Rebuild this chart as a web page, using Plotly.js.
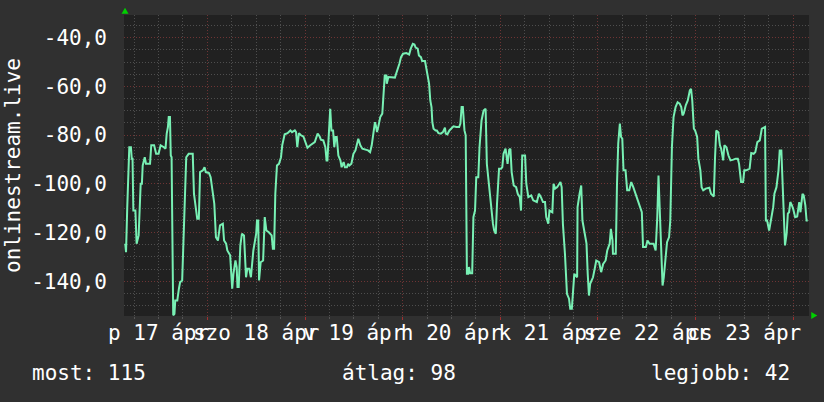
<!DOCTYPE html>
<html>
<head>
<meta charset="utf-8">
<script src="https://cdn.plot.ly/plotly-3.0.1.min.js"></script>
<style>
html,body{margin:0;padding:0;background:#303030;}
#chart{width:824px;height:402px;}
</style>
</head>
<body>
<div id="chart"></div>
<script>
// hours since 17 Apr 00:00
var hours = [3.8,4.0,4.3,4.8,5.2,5.4,5.6,5.8,6.3,6.6,7.1,7.6,7.9,8.1,8.6,8.9,9.9,10.2,10.9,11.4,
12.0,12.5,13.3,13.7,14.0,14.3,14.5,14.8,15.0,15.2,15.6,15.9,16.1,16.6,17.0,17.3,17.8,18.1,18.4,18.8,
19.4,20.4,20.7,21.2,21.5,21.9,22.2,22.9,23.3,23.6,24.4,24.8,25.2,25.7,26.1,26.6,27.1,27.8,28.1,28.6,
28.9,29.6,30.1,30.4,30.9,31.2,31.4,31.7,32.1,32.5,33.0,33.3,33.5,33.8,34.3,34.7,35.0,35.3,36.0,36.2,
36.5,36.7,37.1,37.7,38.1,38.5,39.1,39.8,40.1,40.4,40.7,41.1,41.6,42.1,42.4,43.0,43.7,44.4,44.8,45.5,
45.8,46.1,46.5,47.0,47.6,48.0,48.6,49.3,49.9,50.4,51.1,51.6,51.9,52.5,53.0,53.3,53.5,53.9,54.2,54.5,
54.9,55.2,55.5,55.8,56.2,56.7,57.0,57.5,57.8,58.3,58.6,58.9,59.4,59.9,60.4,61.1,61.6,62.1,62.9,63.5,
64.0,64.4,64.8,65.2,65.5,65.7,66.0,66.5,67.0,67.3,67.6,68.0,68.1,68.5,69.1,70.1,70.4,70.7,71.2,71.6,
72.1,72.9,73.6,74.0,74.5,74.9,75.2,75.7,76.0,76.5,76.8,77.5,77.8,78.1,78.5,78.8,79.1,79.3,79.6,80.1,
80.4,80.8,81.4,81.9,82.4,82.6,83.0,83.5,84.0,84.5,85.2,85.9,86.2,86.5,86.8,87.2,87.5,87.6,87.8,88.1,
88.3,88.6,89.1,89.4,89.8,90.1,90.6,90.9,91.4,91.9,92.4,92.7,93.1,93.4,93.7,94.2,94.5,94.9,95.2,95.7,
96.2,96.5,96.8,97.3,97.8,98.2,98.5,98.8,99.3,99.9,100.3,100.8,101.1,101.4,102.1,102.4,102.9,103.6,104.1,104.7,
105.0,105.5,106.0,106.5,107.0,107.3,107.8,108.1,108.8,109.1,109.5,110.0,110.3,110.8,111.1,111.4,111.9,112.4,112.9,113.2,
113.6,113.9,114.2,114.9,115.0,115.5,115.9,116.2,116.8,117.2,117.5,117.8,118.1,118.8,119.3,119.6,120.3,120.8,121.3,121.9,
122.3,122.9,123.2,123.6,123.7,124.4,124.7,125.0,125.4,125.7,126.0,126.3,126.8,127.2,127.7,128.2,128.7,129.1,129.8,130.5,
130.8,131.1,131.8,132.2,132.7,133.7,134.2,134.6,134.9,135.2,135.5,135.9,136.2,136.7,137.0,137.5,137.8,138.2,138.6,139.1,
139.6,140.1,140.5,140.8,141.1,141.6,142.1,142.6,142.9,143.2,143.6,143.9,144.4,144.7,145.2,145.5,145.9,146.5,147.4,147.8,
148.5,148.8,149.1,149.6,150.0,150.3,150.8,151.1,151.6,152.1,152.6,153.3,153.9,154.4,154.7,155.2,155.7,156.0,156.5,157.3,
157.7,158.3,158.7,159.2,159.8,160.3,161.1,161.3,161.6,162.1,162.6,163.1,163.4,163.9,164.4,164.7,165.1,165.4,165.7,166.0,
166.4,166.7,167.0,167.3,167.7,168.0,168.5,169.0,169.5,169.8,170.3,170.6,171.0,171.3,171.6];

var signal = [-124.6,-128.1,-109.6,-85.0,-85.0,-89.7,-89.7,-111.0,-111.0,-124.6,-121.2,-100.0,-100.0,-92.5,-89.1,-91.8,-91.8,-84.2,-84.2,-87.7,
-87.7,-84.2,-85.0,-85.6,-79.4,-76.7,-72.6,-72.6,-88.4,-89.1,-154.0,-153.4,-147.9,-147.9,-143.1,-140.4,-139.7,-121.9,-106.8,-89.1,
-87.7,-87.7,-104.1,-111.0,-114.4,-114.4,-95.2,-94.5,-93.2,-95.2,-95.6,-97.3,-102.7,-108.2,-121.9,-123.3,-117.1,-116.4,-123.3,-124.6,
-127.4,-129.4,-143.1,-137.0,-131.5,-134.2,-142.4,-142.4,-125.3,-120.5,-121.2,-131.5,-138.4,-134.9,-134.9,-138.4,-134.2,-127.4,-120.5,-115.1,
-115.1,-139.7,-132.2,-131.5,-113.7,-119.2,-119.9,-121.2,-126.7,-126.7,-104.1,-92.5,-91.8,-89.1,-84.2,-79.7,-79.2,-78.1,-78.8,-78.1,
-78.8,-85.0,-79.2,-80.1,-80.6,-82.2,-85.2,-84.2,-83.5,-82.9,-79.4,-80.6,-81.9,-82.2,-85.0,-90.4,-90.4,-78.1,-69.2,-78.1,
-78.1,-85.0,-80.8,-80.8,-88.4,-90.4,-93.2,-91.1,-93.2,-93.2,-91.8,-92.5,-91.8,-87.7,-86.3,-81.5,-84.2,-85.6,-86.0,-86.3,
-87.0,-84.2,-79.4,-74.7,-76.7,-78.8,-76.7,-72.6,-71.2,-61.0,-55.5,-55.5,-58.9,-56.2,-56.2,-56.4,-54.8,-53.4,-50.7,-48.0,
-46.6,-46.3,-46.9,-44.5,-42.5,-42.8,-44.1,-44.5,-47.3,-48.0,-49.6,-49.6,-52.1,-54.8,-58.9,-65.8,-68.5,-74.7,-77.4,-78.1,
-78.1,-79.2,-79.4,-78.8,-77.0,-79.4,-79.7,-78.1,-77.4,-76.4,-76.7,-76.7,-75.3,-68.5,-68.5,-78.1,-80.1,-105.5,-137.0,-137.0,
-134.2,-136.7,-136.7,-113.7,-111.0,-97.3,-97.3,-85.0,-74.0,-69.9,-69.2,-91.8,-98.6,-101.4,-109.6,-116.4,-119.2,-120.5,-108.2,-93.8,
-93.8,-93.2,-87.7,-85.6,-91.8,-86.0,-85.6,-95.2,-100.7,-101.4,-104.1,-105.5,-111.0,-88.4,-88.4,-100.0,-105.5,-104.8,-106.8,-107.5,
-107.5,-104.1,-105.5,-107.5,-107.5,-113.7,-116.4,-111.0,-111.7,-100.0,-102.0,-101.4,-100.7,-99.3,-101.4,-116.4,-128.7,-145.2,-147.2,-151.3,
-151.3,-142.4,-137.0,-138.4,-109.6,-104.1,-100.7,-115.1,-121.9,-124.6,-137.0,-145.9,-141.1,-138.4,-134.2,-131.5,-132.2,-136.3,-132.9,-131.5,
-127.4,-124.6,-118.5,-123.3,-128.7,-128.7,-100.0,-83.5,-75.3,-80.8,-81.5,-94.5,-94.5,-102.7,-102.7,-99.3,-101.4,-103.4,-106.8,-109.6,
-111.7,-126.0,-126.0,-123.3,-124.6,-124.6,-127.4,-113.7,-96.6,-110.3,-126.0,-141.8,-138.4,-127.4,-124.0,-121.9,-115.1,-85.0,-72.6,-68.5,
-66.5,-67.1,-68.5,-71.9,-71.2,-67.8,-65.8,-61.7,-61.0,-65.8,-77.4,-78.1,-80.8,-89.7,-94.5,-101.4,-102.7,-102.0,-101.6,-104.1,
-105.2,-89.1,-78.1,-78.8,-84.2,-85.6,-90.4,-84.2,-85.0,-88.4,-90.4,-90.1,-89.7,-89.7,-91.8,-99.3,-99.3,-94.5,-94.5,-93.8,
-87.4,-87.7,-87.0,-82.9,-82.2,-77.4,-76.7,-115.1,-115.1,-119.2,-115.1,-109.6,-104.1,-101.4,-94.5,-86.3,-86.3,-98.6,-112.3,-125.3,
-120.5,-112.3,-111.7,-107.5,-108.9,-110.3,-113.7,-113.4,-107.5,-111.7,-104.1,-104.8,-108.9,-115.1,-115.1];

var xLabelHours = [12,36,60,84,108,132,156];
var xLabels = ["p 17 ápr","szo 18 ápr","v 19 ápr","h 20 ápr","k 21 ápr","sze 22 ápr","cs 23 ápr"];
var yTickVals = [-40,-60,-80,-100,-120,-140];
var yTickText = ["-40,0","-60,0","-80,0","-100,0","-120,0","-140,0"];
var seriesName = "onlinestream.live";
var statLabels = ["most: 115","átlag: 98","legjobb: 42"];

var FONT = "DejaVu Sans Mono, monospace";
var FS = 21;
var RED = "#6e3434";
var GRAY = "#4e4e4e";
var DOT = "1px,2px";
var XR = [3.5,171.9];

var trace = {
  x: hours, y: signal, type: "scatter", mode: "lines",
  line: {color: "#78f0b4", width: 2},
  hoverinfo: "skip"
};
// empty helper trace so the label axis (x2) gets drawn
var labelAxisTrace = {x: [], y: [], type: "scatter", mode: "lines", xaxis: "x2", yaxis: "y", hoverinfo: "skip"};

var layout = {
  width: 824, height: 402,
  margin: {l: 124, r: 15, t: 15, b: 86, pad: 0},
  paper_bgcolor: "#303030",
  plot_bgcolor: "#212121",
  showlegend: false,
  hovermode: false,
  font: {family: FONT, color: "#ffffff", size: FS},
  xaxis: {
    range: XR, autorange: false, tickmode: "linear", tick0: 0, dtick: 24,
    showticklabels: false, showgrid: true, gridcolor: RED, griddash: DOT, gridwidth: 1,
    ticks: "outside", ticklen: 3, tickcolor: "#a03030",
    minor: {tickmode: "linear", tick0: 0, dtick: 6, showgrid: true, gridcolor: GRAY, griddash: DOT, ticks: "outside", ticklen: 2, tickcolor: "#555555"},
    zeroline: false, showline: false, fixedrange: true
  },
  xaxis2: {
    overlaying: "x", anchor: "y", side: "bottom",
    range: XR, autorange: false, tickmode: "array", tickvals: xLabelHours, ticktext: xLabels,
    tickangle: 0, showgrid: false, zeroline: false, ticks: "", ticklabelstandoff: 2,
    tickfont: {family: FONT, size: FS, color: "#ffffff"}, fixedrange: true
  },
  yaxis: {
    range: [-154.3, -30.7], autorange: false, tickmode: "array", tickvals: yTickVals, ticktext: yTickText,
    showgrid: true, gridcolor: RED, griddash: DOT, gridwidth: 1,
    minor: {tickmode: "linear", tick0: 0, dtick: 5, showgrid: true, gridcolor: GRAY, griddash: DOT},
    zeroline: false, showline: false, ticks: "", ticklabelstandoff: 16,
    tickfont: {family: FONT, size: FS, color: "#ffffff"},
    title: {text: seriesName, font: {family: FONT, size: FS, color: "#ffffff"}, standoff: 4},
    fixedrange: true
  },
  shapes: [
    {type: "path", xref: "paper", yref: "paper", path: "M -0.0036 1.004 L 0.0066 1.004 L 0.0015 1.024 Z", fillcolor: "#00d000", line: {width: 0}},
    {type: "path", xref: "paper", yref: "paper", path: "M 1.0033 0.0133 L 1.0033 -0.0100 L 1.0121 0.0017 Z", fillcolor: "#00d000", line: {width: 0}}
  ],
  annotations: [
    {text: statLabels[0], xref: "paper", yref: "paper", x: -0.1374, y: -0.191, xanchor: "left", yanchor: "middle", showarrow: false, font: {family: FONT, size: FS, color: "#ffffff"}},
    {text: statLabels[1], xref: "paper", yref: "paper", x: 0.4016, y: -0.191, xanchor: "center", yanchor: "middle", showarrow: false, font: {family: FONT, size: FS, color: "#ffffff"}},
    {text: statLabels[2], xref: "paper", yref: "paper", x: 0.9756, y: -0.191, xanchor: "right", yanchor: "middle", showarrow: false, font: {family: FONT, size: FS, color: "#ffffff"}}
  ]
};

Plotly.newPlot("chart", [trace, labelAxisTrace], layout, {displayModeBar: false, staticPlot: true});
</script>
</body>
</html>
